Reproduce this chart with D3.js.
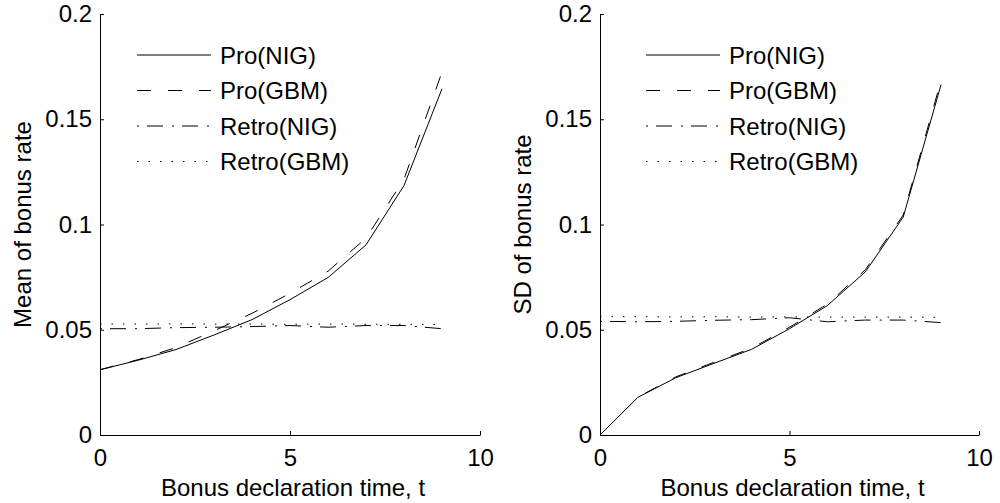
<!DOCTYPE html>
<html>
<head>
<meta charset="utf-8">
<script src="https://cdn.jsdelivr.net/npm/d3@7"></script>
<style>
  body { margin: 0; background: #fff; }
  svg text { font-family: "Liberation Sans", Arial, sans-serif; fill: #000; }
</style>
</head>
<body>
<div id="chart"></div>
<script>
// bonus declaration times
const times = [0, 1, 2, 3, 4, 5, 6, 7, 8, 9];

// left panel: mean of bonus rate
const meanProNIG = [0.031, 0.0355, 0.0406, 0.0475, 0.0548, 0.0643, 0.0748, 0.0903, 0.1185, 0.1645];
const meanProGBM = [0.031, 0.0358, 0.0415, 0.0495, 0.0578, 0.0673, 0.0778, 0.0935, 0.1215, 0.1724];
const meanRetroNIG = [0.0505, 0.0505, 0.051, 0.0512, 0.0515, 0.052, 0.0512, 0.052, 0.052, 0.0505];
const meanRetroGBM = [0.0528, 0.0527, 0.0528, 0.0527, 0.0527, 0.0526, 0.0527, 0.0526, 0.0526, 0.0525];

// right panel: SD of bonus rate
const sdProNIG = [0, 0.0179, 0.0272, 0.034, 0.0407, 0.0505, 0.0615, 0.0775, 0.1035, 0.1665];
const sdProGBM = [0, 0.018, 0.0276, 0.0345, 0.0412, 0.0512, 0.0622, 0.0785, 0.1045, 0.1685];
const sdRetroNIG = [0.054, 0.0538, 0.054, 0.0545, 0.0548, 0.0557, 0.0538, 0.0546, 0.0546, 0.0534];
const sdRetroGBM = [0.0562, 0.0562, 0.0561, 0.0562, 0.056, 0.0561, 0.056, 0.056, 0.056, 0.0559];

const seriesNames = ["Pro(NIG)", "Pro(GBM)", "Retro(NIG)", "Retro(GBM)"];
const dashes = [null, "14,17", "2,8,16,9", "1.5,10"];

const xTicks = [0, 5, 10];
const yTicks = [0, 0.05, 0.1, 0.15, 0.2];

const W = 1000, H = 503;
const fontSize = 24;

const svg = d3.select("#chart").append("svg").attr("width", W).attr("height", H);

const drawPanel = (left, right, yLabel, seriesList, legendX) => {
  const x = d3.scaleLinear().domain([0, 10]).range([left, right]);
  const y = d3.scaleLinear().domain([0, 0.2]).range([435, 14]);

  const g = svg.append("g");

  // y axis
  g.append("g")
    .attr("transform", `translate(${left},0)`)
    .call(d3.axisLeft(y).tickValues(yTicks).tickFormat(d3.format("~g")).tickSizeInner(-4).tickSizeOuter(0).tickPadding(8))
    .call((a) => a.selectAll("text").style("font-size", fontSize + "px"))
    .call((a) => a.selectAll("path,line").attr("stroke", "#000"));

  // x axis
  g.append("g")
    .attr("transform", `translate(0,435)`)
    .call(d3.axisBottom(x).tickValues(xTicks).tickFormat(d3.format("d")).tickSizeInner(-4).tickSizeOuter(0).tickPadding(14))
    .call((a) => a.selectAll("text").style("font-size", fontSize + "px"))
    .call((a) => a.selectAll("path,line").attr("stroke", "#000"));

  const line = d3.line().x((d, i) => x(times[i])).y((d) => y(d));

  seriesList.forEach((vals, i) => {
    g.append("path")
      .datum(vals)
      .attr("d", line)
      .attr("fill", "none")
      .attr("stroke", "#000")
      .attr("stroke-width", 1)
      .attr("stroke-dasharray", dashes[i]);
  });

  // axis labels
  g.append("text")
    .attr("x", (left + right) / 2 + 3)
    .attr("y", 496)
    .attr("text-anchor", "middle")
    .style("font-size", fontSize + "px")
    .text("Bonus declaration time, t");

  g.append("text")
    .attr("transform", `translate(${left - 69},${y(0.1)}) rotate(-90)`)
    .attr("text-anchor", "middle")
    .style("font-size", fontSize + "px")
    .text(yLabel);

  // legend
  const legend = g.append("g").attr("transform", `translate(${legendX},55)`);
  seriesNames.forEach((name, i) => {
    const row = legend.append("g").attr("transform", `translate(0,${i * 35.5})`);
    row.append("line")
      .attr("x1", 0).attr("x2", 74).attr("y1", 0).attr("y2", 0)
      .attr("stroke", "#000")
      .attr("stroke-width", 1)
      .attr("stroke-dasharray", dashes[i]);
    row.append("text")
      .attr("x", 83)
      .attr("y", 8.5)
      .style("font-size", fontSize + "px")
      .text(name);
  });
};

drawPanel(100, 480, "Mean of bonus rate", [meanProNIG, meanProGBM, meanRetroNIG, meanRetroGBM], 137);
drawPanel(600, 979, "SD of bonus rate", [sdProNIG, sdProGBM, sdRetroNIG, sdRetroGBM], 646);
</script>
</body>
</html>
